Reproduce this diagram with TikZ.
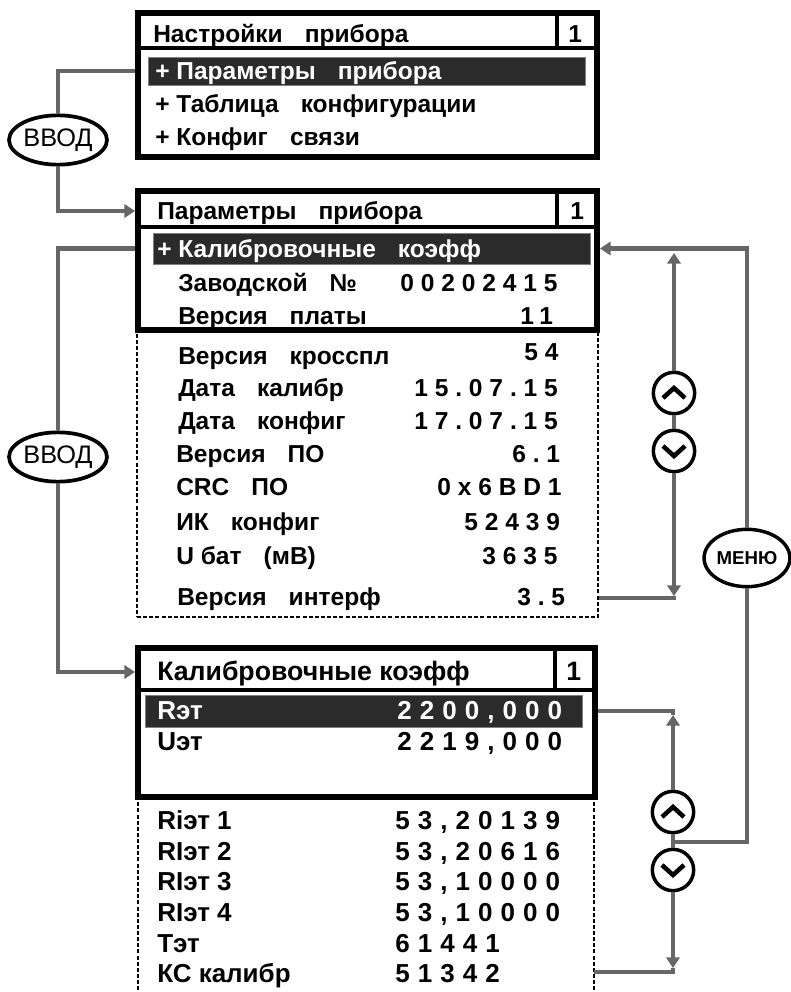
\documentclass[tikz,border=0pt]{standalone}
\usepackage{fontspec}
\setmainfont{Liberation Sans}[BoldFont={Liberation Sans Bold}]
\newfontfamily\spacedfont[LetterSpace=28]{Liberation Sans Bold}
\newfontfamily\spacedbig[LetterSpace=31]{Liberation Sans Bold}
\usetikzlibrary{fit,shapes.geometric,arrows.meta}
\definecolor{conn}{HTML}{666666}
\definecolor{bar}{HTML}{2B2B2B}
\tikzset{
  x=0.75pt,y=-0.75pt,
  panel/.style={draw=black,line width=4.5pt,fill=white,inner sep=0pt,rectangle},
  rule/.style={draw=black,line width=2.4pt},
  barbox/.style={fill=bar,draw=black!50,line width=.5pt,inner sep=0pt,rectangle},
  dotbox/.style={draw=black,line width=1.9pt,dash pattern=on 3pt off 1.6pt},
  lbl/.style={anchor=base west,inner sep=0pt,yshift=-0.75pt,font=\fontsize{18.4}{20}\selectfont\bfseries},
  tlbl/.style={anchor=base west,inner sep=0pt,font=\fontsize{20}{22}\selectfont\bfseries},
  blbl/.style={anchor=base west,inner sep=0pt,font=\fontsize{19.5}{22}\selectfont\bfseries},
  num/.style={anchor=base west,inner sep=0pt,yshift=-0.75pt,font=\fontsize{18.4}{20}\spacedfont},
  bnum/.style={anchor=base west,inner sep=0pt,font=\fontsize{19.5}{22}\spacedbig},
  wlbl/.style={lbl,text=white},
  wblbl/.style={blbl,text=white},
  wbnum/.style={bnum,text=white},
  conn/.style={draw=conn,line width=3.4pt},
  tip/.style={conn,-{Triangle[length=8pt,width=10pt]}},
  keyov/.style={ellipse,draw=black,line width=2.8pt,fill=white,inner sep=0pt,minimum width=72pt,minimum height=37pt,font=\fontsize{19}{22}\selectfont},
  menuov/.style={ellipse,draw=black,line width=2.6pt,fill=white,inner sep=0pt,minimum width=63pt,minimum height=43pt,font=\fontsize{14}{16}\selectfont\bfseries},
  keyc/.style={circle,draw=black,line width=2.6pt,fill=white,inner sep=0pt,minimum size=31pt},
  chev/.style={draw=black,line width=3.4pt}
}
\newcommand{\sps}{\hspace{0.9em}}
\begin{document}
\begin{tikzpicture}
\useasboundingbox (0,0) rectangle (790,992);
% dotted extents
\node[dotbox,fit={(137,320)(598,617)},inner sep=0pt] (dot2) {};
\draw[dotbox] (138,790) -- (138,992);
\draw[dotbox] (594,790) -- (594,992);
\coordinate (dot3r) at (594,972);
% panels
\node[panel,fit={(138,13)(597,157)}] (box1) {};
\node[panel,fit={(138,191)(597,330)}] (box2) {};
\node[panel,fit={(138,648)(595,797)}] (box3) {};
\draw[rule] (138,48) -- (597,48) (557,13) -- (557,48);
\draw[rule] (138,227) -- (597,227) (557,191) -- (557,227);
\draw[rule] (138,690) -- (595,690) (555,648) -- (555,690);
\node[barbox,fit={(148,57)(585,85)}] (bar1) {};
\node[barbox,fit={(153,233)(590,264)}] (bar2) {};
\node[barbox,fit={(145,695)(582,727)}] (bar3) {};
% box 1
\node[lbl] (a0) at (153,41) {Настройки\sps прибора};
\node[lbl] (a1) at (568,41) {1};
\node[wlbl] (a2) at (155,78) {+ Параметры\sps прибора};
\node[lbl] (a3) at (155,111) {+ Таблица\sps конфигурации};
\node[lbl] (a4) at (155,144) {+ Конфиг\sps связи};
% box 2
\node[lbl] (b0) at (157,218) {Параметры\sps прибора};
\node[lbl] (b1) at (570,218) {1};
\node[wlbl] (b2) at (157,256) {+ Калибровочные\sps коэфф};
\node[lbl] (b3) at (178,290) {Заводской\sps №};
\node[num] (b3n) at (400,290) {00202415};
\node[lbl] (b4) at (178,323) {Версия\sps платы};
\node[num] (b4n) at (520,323) {11};
\node[lbl] (b5) at (178,363) {Версия\sps кросспл};
\node[num] (b5n) at (524,359) {54};
\node[lbl] (b6) at (178,395) {Дата\sps калибр};
\node[num] (b6n) at (414,395) {15.07.15};
\node[lbl] (b7) at (178,428) {Дата\sps конфиг};
\node[num] (b7n) at (414,428) {17.07.15};
\node[lbl] (b8) at (176,461) {Версия\sps ПО};
\node[num] (b8n) at (512,461) {6.1};
\node[lbl] (b9) at (176,494) {CRC\sps ПО};
\node[num] (b9n) at (437,494) {0x6BD1};
\node[lbl] (b10) at (176,529) {ИК\sps конфиг};
\node[num] (b10n) at (464,529) {52439};
\node[lbl] (b11) at (176,563) {U бат\sps (мВ)};
\node[num] (b11n) at (482,563) {3635};
\node[lbl] (b12) at (177,604) {Версия\sps интерф};
\node[num] (b12n) at (517,604) {3.5};
% box 3
\node[tlbl] (c0) at (157,680) {Калибровочные коэфф};
\node[tlbl] (c1) at (566,680) {1};
\node[wblbl] (c2) at (157,719) {Rэт};
\node[wbnum] (c2n) at (397,719) {2200,000};
\node[blbl] (c3) at (157,750) {Uэт};
\node[bnum] (c3n) at (397,750) {2219,000};
\node[blbl] (c4) at (157,829) {Riэт 1};
\node[bnum] (c4n) at (395,829) {53,20139};
\node[blbl] (c5) at (157,860) {RIэт 2};
\node[bnum] (c5n) at (395,860) {53,20616};
\node[blbl] (c6) at (157,890) {RIэт 3};
\node[bnum] (c6n) at (395,890) {53,10000};
\node[blbl] (c7) at (157,921) {RIэт 4};
\node[bnum] (c7n) at (395,921) {53,10000};
\node[blbl] (c8) at (157,952) {Тэт};
\node[bnum] (c8n) at (395,952) {61441};
\node[blbl] (c9) at (157,982) {КС калибр};
\node[bnum] (c9n) at (395,982) {51342};
% keys
\node[keyov] (enter1) at (58,140) {ВВОД};
\node[keyov] (enter2) at (58,457) {ВВОД};
\node[menuov] (menu) at (747,558) {МЕНЮ};
\node[keyc] (up1) at (674,393) {};
\node[keyc] (dn1) at (674,451) {};
\node[keyc] (up2) at (673,812) {};
\node[keyc] (dn2) at (673,870) {};
\draw[chev] (663,398) -- (674,388) -- (685,398);
\draw[chev] (663,446) -- (674,456) -- (685,446);
\draw[chev] (662,817) -- (673,807) -- (684,817);
\draw[chev] (662,865) -- (673,875) -- (684,865);
% connectors
\coordinate (r1) at (box1.west |- bar1.west);
\coordinate (r2) at (box2.west |- bar2.west);
\coordinate (t3) at (box3.west |- 0,672);
\coordinate (t2) at (box2.west |- 0,211);
\draw[conn] (r1) -| (enter1.north);
\draw[tip] (enter1.south) |- (t2);
\draw[conn] (r2) -| (enter2.north);
\draw[tip] (enter2.south) |- (t3);
\coordinate (mtop) at (box2.east |- bar2.east);
\draw[tip] (menu.north) |- (mtop);
\coordinate (tipa) at (674,253);
\coordinate (tipb) at (674,596);
\coordinate (ltop) at (dot2.east |- 0,598);
\draw[tip] (up1.north) -- (tipa);
\draw[conn] (up1.south) -- (dn1.north);
\draw[tip] (dn1.south) -- (tipb);
\draw[conn] (ltop) -| (tipb);
\coordinate (bend3) at (box3.east |- 0,711);
\coordinate (tipc) at (673,715);
\coordinate (tipd) at (673,968);
\draw[conn] (bend3) -| (tipc);
\draw[tip] (up2.north) -- (tipc);
\draw[conn] (up2.south) -- (dn2.north);
\draw[tip] (dn2.south) -- (tipd);
\draw[conn] (dot3r) -| (tipd);
\coordinate (mjoin) at (673,842);
\draw[conn] (menu.south) |- (mjoin);
\end{tikzpicture}
\end{document}
